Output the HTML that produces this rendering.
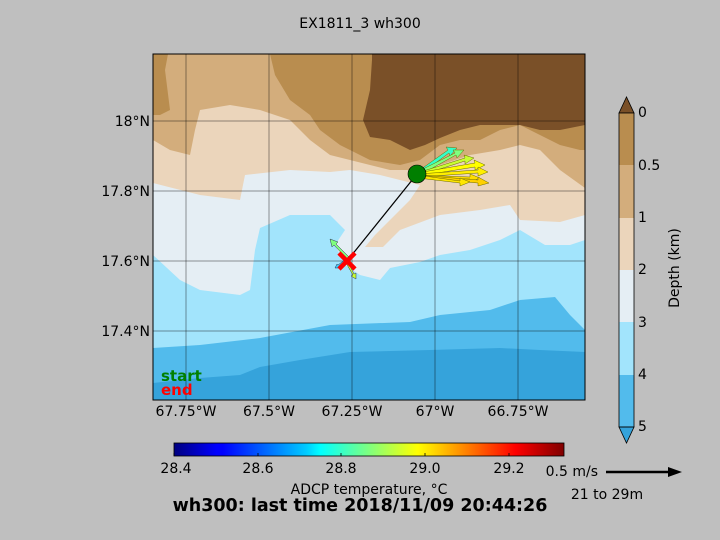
<!DOCTYPE html>
<html><head><style>
body{margin:0;background:#bfbfbf;}
svg{display:block;font-family:"DejaVu Sans","Liberation Sans",sans-serif;}
</style></head><body>
<svg width="720" height="540" viewBox="0 0 720 540">
<defs>
<linearGradient id="jet" x1="0" x2="1" y1="0" y2="0">
<stop offset="0" stop-color="#00007f"/><stop offset="0.11" stop-color="#0000ff"/>
<stop offset="0.125" stop-color="#0000ff"/><stop offset="0.34" stop-color="#00ccff"/>
<stop offset="0.375" stop-color="#00ffff"/><stop offset="0.5" stop-color="#7fff7f"/>
<stop offset="0.625" stop-color="#ffff00"/><stop offset="0.66" stop-color="#ffdd00"/>
<stop offset="0.875" stop-color="#ff0000"/><stop offset="1" stop-color="#7f0000"/>
</linearGradient>
<clipPath id="mc"><rect x="153" y="54" width="432" height="346"/></clipPath>
</defs>
<text x="360" y="28" font-size="14" text-anchor="middle">EX1811_3 wh300</text>
<g clip-path="url(#mc)">
<rect x="153" y="54" width="432" height="346" fill="#35a3db"/>
<polygon fill="#52bbec" points="153,54 585,54 585,352 540,350 500,348 430,350 350,352 300,360 260,367 240,375 200,378 153,383"/>
<polygon fill="#a2e4fc" points="153,54 585,54 585,330 570,315 555,297 520,300 490,310 440,315 410,322 330,325 260,338 200,345 153,348"/>
<polygon fill="#e5eef4" points="153,54 585,54 585,240 570,245 545,245 520,230 500,240 470,250 440,255 420,262 390,268 380,280 360,275 345,265 335,245 345,230 330,215 290,215 260,228 255,250 250,290 240,295 200,290 180,280 153,255"/>
<polygon fill="#ebd5bb" points="153,54 585,54 585,215 560,222 520,220 510,205 480,210 440,215 400,230 383,247 365,247 375,235 395,215 410,200 420,185 380,175 350,170 330,172 290,170 245,175 240,200 200,195 153,183"/>
<polygon fill="#d3ad7c" points="153,54 585,54 585,188 560,170 540,150 520,145 500,150 470,155 440,165 410,170 390,170 370,165 330,155 310,140 290,120 260,110 230,105 200,110 195,130 190,155 170,150 153,140"/>
<polygon fill="#b98d4f" points="153,54 168,54 165,70 170,110 160,115 153,115"/>
<polygon fill="#b98d4f" points="270,54 585,54 585,150 580,150 560,145 540,135 520,125 500,130 480,140 460,140 440,145 420,160 400,165 370,160 340,145 320,130 310,115 290,100 275,75"/>
<polygon fill="#7a5028" points="372,54 585,54 585,125 560,130 540,130 520,125 480,125 460,130 440,138 425,145 410,150 390,140 370,137 363,120 370,90 372,60"/>
<g stroke="#000" stroke-opacity="0.4" stroke-width="1">
<line x1="186" y1="54" x2="186" y2="400"/><line x1="269" y1="54" x2="269" y2="400"/>
<line x1="352" y1="54" x2="352" y2="400"/><line x1="435" y1="54" x2="435" y2="400"/>
<line x1="518" y1="54" x2="518" y2="400"/>
<line x1="153" y1="121" x2="585" y2="121"/><line x1="153" y1="191" x2="585" y2="191"/>
<line x1="153" y1="261" x2="585" y2="261"/><line x1="153" y1="331" x2="585" y2="331"/>
</g>
<line x1="417" y1="174" x2="347" y2="261" stroke="#000" stroke-width="1.2"/>
<g stroke="#6a6a00" stroke-width="0.5">
<polygon fill="#33ffc8" points="417,172 448,150 446,147 457,148 450,156 449,153 418,176"/>
<polygon fill="#7fff7f" points="417,172 455,153 453,150 464,150 457,158 456,155 418,176"/>
<polygon fill="#c8ff33" points="417,173 465,158 464,155 474,158 465,164 465,161 418,176"/>
<polygon fill="#ffff00" points="417,173 475,163 474,160 485,165 475,170 475,167 418,176"/>
<polygon fill="#ffee00" points="417,174 478,170 478,167 488,172 478,176 478,173 418,177"/>
<polygon fill="#ffdd00" points="417,175 470,177 470,174 480,178 470,182 470,179 418,178"/>
<polygon fill="#ffd000" points="417,175 478,180 478,177 489,183 478,186 478,183 418,178"/>
<polygon fill="#ffe600" points="417,175 460,181 460,178 470,182 460,186 460,183 418,178"/>
</g>
<g stroke="#335" stroke-width="0.5">
<polygon fill="#7fff7f" points="348,260 334,245 332,247 330,239 338,242 336,244 350,258"/>
<polygon fill="#33ccff" points="348,260 339,266 340,268 335,268 337,264 338,265 347,258"/>
<polygon fill="#c8ff33" points="348,262 354,274 356,273 356,279 351,276 353,275 346,263"/>
</g>
<circle cx="417" cy="174" r="9" fill="#007f00" stroke="#000" stroke-width="0.6"/>
<g stroke="#ff0000" stroke-width="4.5"><line x1="339" y1="253" x2="355" y2="269"/><line x1="355" y1="253" x2="339" y2="269"/></g>
<text x="161" y="381" font-size="15" font-weight="bold" fill="#008000">start</text>
<text x="161" y="395" font-size="15" font-weight="bold" fill="#ff0000">end</text>
</g>
<rect x="153" y="54" width="432" height="346" fill="none" stroke="#000" stroke-width="1"/>
<g font-size="14" text-anchor="middle">
<text x="186" y="416">67.75°W</text><text x="269" y="416">67.5°W</text>
<text x="352" y="416">67.25°W</text><text x="435" y="416">67°W</text>
<text x="518" y="416">66.75°W</text>
</g>
<g font-size="14" text-anchor="end">
<text x="150" y="126">18°N</text><text x="150" y="196">17.8°N</text>
<text x="150" y="266">17.6°N</text><text x="150" y="336">17.4°N</text>
</g>
<rect x="174" y="443" width="390" height="13" fill="url(#jet)" stroke="#000" stroke-width="0.8"/>
<g stroke="#000" stroke-width="0.8">
<line x1="174" y1="453" x2="174" y2="456"/><line x1="258" y1="453" x2="258" y2="456"/>
<line x1="341" y1="453" x2="341" y2="456"/><line x1="425" y1="453" x2="425" y2="456"/>
<line x1="509" y1="453" x2="509" y2="456"/>
</g>
<g font-size="14" text-anchor="middle">
<text x="176" y="473">28.4</text><text x="258" y="473">28.6</text>
<text x="341" y="473">28.8</text><text x="425" y="473">29.0</text>
<text x="509" y="473">29.2</text>
<text x="369" y="494">ADCP temperature, °C</text>
</g>
<text x="360" y="511" font-size="17.5" font-weight="bold" text-anchor="middle">wh300: last time 2018/11/09 20:44:26</text>
<text x="598" y="476" font-size="14" text-anchor="end">0.5 m/s</text>
<line x1="606" y1="472" x2="670" y2="472" stroke="#000" stroke-width="2.5"/>
<polygon points="668,467 682,472 668,477" fill="#000"/>
<text x="607" y="499" font-size="14" text-anchor="middle">21 to 29m</text>
<polygon points="619,113 626.5,97 634,113" fill="#7a5028" stroke="#000" stroke-width="0.8"/>
<rect x="619" y="113" width="15" height="53" fill="#b98d4f"/>
<rect x="619" y="165" width="15" height="53" fill="#d3ad7c"/>
<rect x="619" y="218" width="15" height="52" fill="#ebd5bb"/>
<rect x="619" y="270" width="15" height="53" fill="#e5eef4"/>
<rect x="619" y="322" width="15" height="53" fill="#a2e4fc"/>
<rect x="619" y="375" width="15" height="52" fill="#52bbec"/>
<polygon points="619,427 626.5,443 634,427" fill="#35a3db" stroke="#000" stroke-width="0.8"/>
<rect x="619" y="113" width="15" height="314" fill="none" stroke="#000" stroke-width="0.8"/>
<g font-size="14">
<text x="638" y="117">0</text><text x="638" y="170">0.5</text>
<text x="638" y="222">1</text><text x="638" y="274">2</text>
<text x="638" y="327">3</text><text x="638" y="379">4</text>
<text x="638" y="431">5</text>
</g>
<text transform="translate(679,268) rotate(-90)" font-size="14" text-anchor="middle">Depth (km)</text>
</svg>
</body></html>
